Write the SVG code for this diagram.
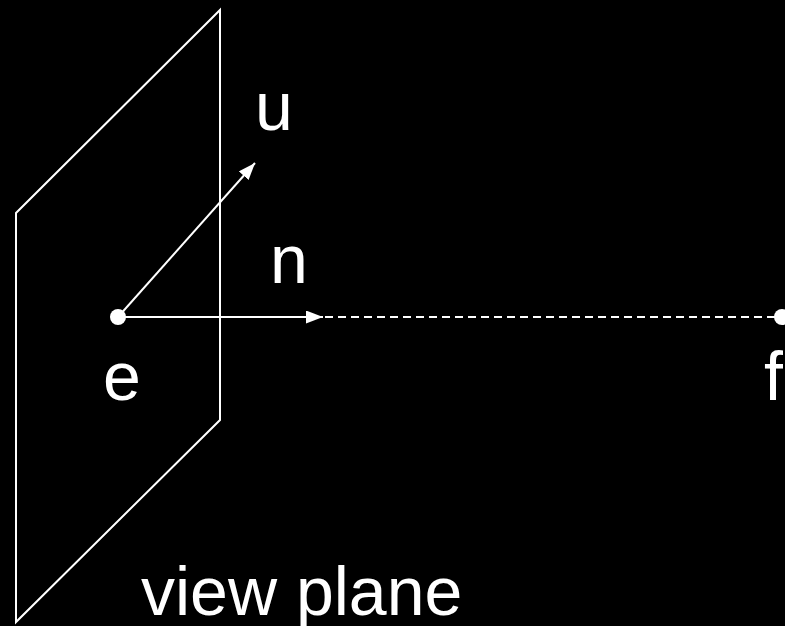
<svg xmlns="http://www.w3.org/2000/svg" width="785" height="626" viewBox="0 0 785 626">
<defs>
<style>
.ln{stroke:#fff;stroke-width:2;fill:none}
.t{fill:#fff;font-family:"Liberation Sans",Arial,sans-serif;font-size:68px}
</style>
<marker id="ah2" markerWidth="17" markerHeight="13" refX="17" refY="6.5" orient="auto" markerUnits="userSpaceOnUse" viewBox="0 0 17 13">
<path d="M0,0 L17,6.5 L0,13 z" fill="#fff"/>
</marker>
</defs>
<rect width="785" height="626" fill="#000"/>
<g id="viewplane">
<polygon class="ln" points="220,10 220,420 16,622 16,213"/>
<text class="t" x="141" y="615">view plane</text>
</g>
<g id="connectors">
<line class="ln" x1="325" y1="317" x2="778" y2="317" stroke-dasharray="8,5"/>
<line class="ln" x1="118" y1="317" x2="323" y2="317" marker-end="url(#ah2)"/>
<line class="ln" x1="118" y1="317" x2="255" y2="163" marker-end="url(#ah2)"/>
</g>
<g id="e">
<circle cx="118" cy="317" r="8" fill="#fff"/>
<text class="t" x="103" y="400">e</text>
</g>
<g id="f">
<circle cx="782" cy="317" r="8" fill="#fff"/>
<text class="t" x="764" y="400">f</text>
</g>
<g id="u"><text class="t" x="255" y="130">u</text></g>
<g id="n"><text class="t" x="270" y="283">n</text></g>
</svg>
